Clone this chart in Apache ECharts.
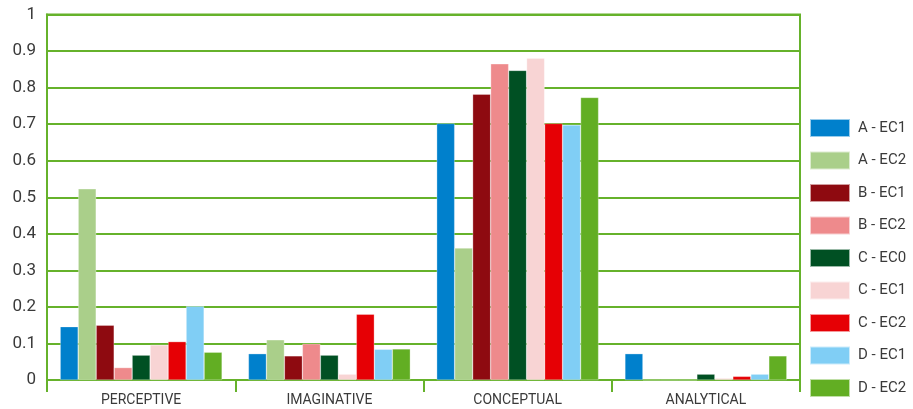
<!DOCTYPE html>
<html>
<head>
<meta charset="utf-8">
<script src="https://cdn.jsdelivr.net/npm/echarts@6/dist/echarts.min.js"></script>
<style>
  html, body { margin: 0; padding: 0; background: #fff; }
  #main { width: 913px; height: 409px; }
</style>
</head>
<body>
<div id="main"></div>
<script>
// categories and series
var categories = ['PERCEPTIVE', 'IMAGINATIVE', 'CONCEPTUAL', 'ANALYTICAL'];
var seriesNames = ['A - EC1', 'A - EC2', 'B - EC1', 'B - EC2', 'C - EC0', 'C - EC1', 'C - EC2', 'D - EC1', 'D - EC2'];
var seriesColors = ['#0080cc', '#aacf8a', '#8e0a10', '#ee8a8c', '#005023', '#f8d4d4', '#e60005', '#80cef5', '#62ae23'];

var aEc1 = [0.146, 0.072, 0.702, 0.072];
var aEc2 = [0.523, 0.110, 0.361, 0];
var bEc1 = [0.150, 0.066, 0.782, 0];
var bEc2 = [0.034, 0.099, 0.865, 0];
var cEc0 = [0.068, 0.068, 0.847, 0.016];
var cEc1 = [0.096, 0.016, 0.880, 0.005];
var cEc2 = [0.105, 0.180, 0.702, 0.010];
var dEc1 = [0.202, 0.084, 0.698, 0.016];
var dEc2 = [0.076, 0.085, 0.773, 0.066];

var seriesValues = [aEc1, aEc2, bEc1, bEc2, cEc0, cEc1, cEc2, dEc1, dEc2];

var green = '#66b22b';
var fontFamily = 'Roboto, "DejaVu Sans", sans-serif';

var myChart = echarts.init(document.getElementById('main'));

var option = {
  animation: false,
  textStyle: { fontFamily: fontFamily },
  grid: {
    left: 47,
    right: 113,
    top: 14.5,
    bottom: 29,
    show: true,
    borderColor: green,
    borderWidth: 2
  },
  legend: {
    orient: 'vertical',
    left: 809,
    top: 118,
    padding: 0,
    itemWidth: 40,
    itemHeight: 18,
    itemGap: 12.5,
    icon: 'rect',
    data: seriesNames,
    textStyle: {
      color: '#3a3a3a',
      fontSize: 15,
      padding: [0, 0, 0, 3]
    }
  },
  xAxis: {
    type: 'category',
    data: categories,
    axisLine: { lineStyle: { color: green, width: 2 } },
    axisTick: { show: true, length: 12, lineStyle: { color: green, width: 2 } },
    axisLabel: { color: '#3a3a3a', fontSize: 14, margin: 13 }
  },
  yAxis: {
    type: 'value',
    min: 0,
    max: 1,
    interval: 0.1,
    axisLine: { show: true, lineStyle: { color: green, width: 2 } },
    axisTick: { show: false },
    splitLine: { lineStyle: { color: green, width: 2 } },
    axisLabel: { color: '#3a3a3a', fontSize: 17, margin: 11 }
  },
  series: seriesNames.map(function (name, i) {
    return {
      name: name,
      type: 'bar',
      data: seriesValues[i],
      barGap: '0%',
      barCategoryGap: '14%',
      itemStyle: {
        color: seriesColors[i],
        borderColor: 'rgba(255,255,255,0.6)',
        borderWidth: 0.5
      }
    };
  })
};

myChart.setOption(option);
</script>
</body>
</html>
